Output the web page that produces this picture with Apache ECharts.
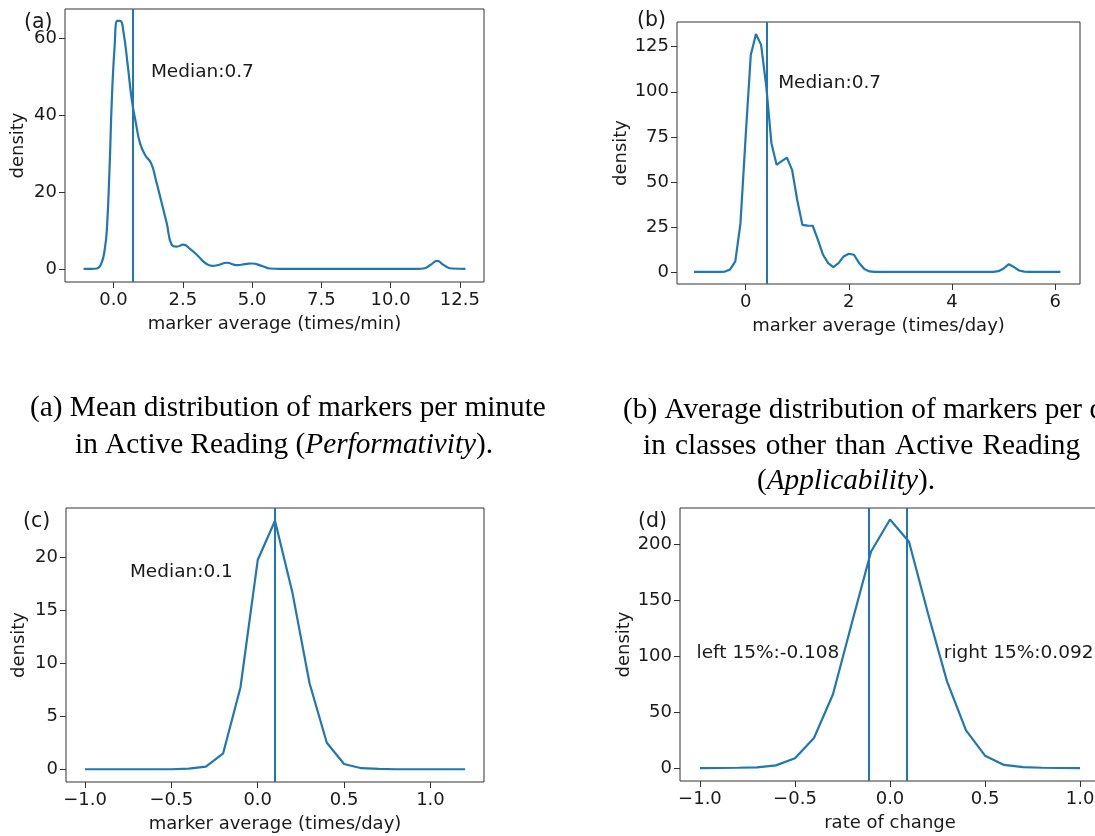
<!DOCTYPE html>
<html>
<head>
<meta charset="utf-8">
<script src="https://cdn.jsdelivr.net/npm/echarts@6/dist/echarts.min.js"></script>
<style>
  html, body { margin: 0; padding: 0; background: #fff; overflow: hidden; }
  #chart { width: 1110px; height: 836px; }
</style>
</head>
<body>
<div id="chart"></div>
<script>
// (a) density of marker averages per minute, Active Reading
const aX = [-1.08, -0.8, -0.6, -0.44, -0.32, -0.24, -0.14, -0.06, 0.04, 0.14, 0.24, 0.36, 0.52, 0.66, 0.81, 0.96, 1.14, 1.36, 1.53, 1.74, 1.92, 2.1, 2.28, 2.52, 2.76, 3.06, 3.3, 3.55, 3.78, 4.09, 4.45, 4.81, 4.99, 5.35, 5.65, 6.0, 11.0, 11.18, 11.45, 11.68, 11.9, 12.2, 12.7];
const aY = [0.1, 0.1, 0.2, 1.5, 5, 10.2, 26.7, 44, 57.8, 64.5, 64.5, 61.6, 52.6, 44, 37.9, 32.7, 29.7, 27.5, 23.2, 17.2, 12, 6.4, 5.9, 6.4, 5.3, 3.4, 1.7, 0.9, 1.1, 1.7, 1.1, 1.4, 1.5, 0.9, 0.2, 0.1, 0.1, 0.2, 1.2, 2.2, 1.2, 0.2, 0.1];
const medianA = 0.7;
const aXTicks = [0, 2.5, 5, 7.5, 10, 12.5];
const aYTicks = [0, 20, 40, 60];

// (b) density of marker averages per day, other classes
const bX = [-1.0, -0.9, -0.8, -0.7, -0.6, -0.5, -0.4, -0.3, -0.2, -0.1, 0.0, 0.1, 0.2, 0.3, 0.4, 0.5, 0.6, 0.7, 0.8, 0.9, 1.0, 1.1, 1.2, 1.3, 1.4, 1.5, 1.6, 1.7, 1.8, 1.9, 2.0, 2.1, 2.2, 2.3, 2.4, 2.5, 2.6, 2.7, 2.8, 2.9, 3.0, 3.1, 3.2, 3.3, 3.4, 3.5, 3.6, 3.7, 3.8, 3.9, 4.0, 4.1, 4.2, 4.3, 4.4, 4.5, 4.6, 4.7, 4.8, 4.9, 5.0, 5.1, 5.2, 5.3, 5.4, 5.5, 5.6, 5.7, 5.8, 5.9, 6.0, 6.1];
const bY = [0.1, 0.1, 0.1, 0.1, 0.1, 0.1, 0.3, 1.5, 5.9, 27, 75, 120.4, 132, 126, 103, 71.5, 59.5, 61.5, 63.5, 56.7, 40, 26.2, 25.8, 25.7, 18, 9.6, 5, 2.8, 5, 8.7, 10.2, 9.6, 5, 1.7, 0.4, 0.1, 0.1, 0.1, 0.1, 0.1, 0.1, 0.1, 0.1, 0.1, 0.1, 0.1, 0.1, 0.1, 0.1, 0.1, 0.1, 0.1, 0.1, 0.1, 0.1, 0.1, 0.1, 0.1, 0.1, 0.5, 2, 4.4, 2.8, 0.9, 0.3, 0.1, 0.1, 0.1, 0.1, 0.1, 0.1, 0.1];
const medianLineB = 0.4;
const bXTicks = [0, 2, 4, 6];
const bYTicks = [0, 25, 50, 75, 100, 125];

// (c) density of marker averages per day
const cX = [-1.0, -0.9, -0.8, -0.7, -0.6, -0.5, -0.4, -0.3, -0.2, -0.1, 0.0, 0.1, 0.2, 0.3, 0.4, 0.5, 0.6, 0.7, 0.8, 0.9, 1.0, 1.1, 1.2];
const cY = [0, 0, 0, 0, 0, 0, 0.06, 0.25, 1.5, 7.7, 19.7, 23.4, 16.7, 8.1, 2.5, 0.5, 0.1, 0.03, 0, 0, 0, 0, 0];
const medianC = 0.1;
const cXTicks = [-1.0, -0.5, 0.0, 0.5, 1.0];
const cYTicks = [0, 5, 10, 15, 20];

// (d) density of the rate of change
const dX = [-1.0, -0.9, -0.8, -0.7, -0.6, -0.5, -0.4, -0.3, -0.2, -0.1, 0.0, 0.1, 0.2, 0.3, 0.4, 0.5, 0.6, 0.7, 0.8, 0.9, 1.0];
const dY = [0.2, 0.3, 0.5, 0.9, 2.6, 8.9, 27, 66, 130, 193, 221.7, 202, 138, 77.5, 33.8, 11.3, 3, 1, 0.5, 0.3, 0.2];
const leftQ = -0.108;
const rightQ = 0.092;
const dXTicks = [-1.0, -0.5, 0.0, 0.5, 1.0];
const dYTicks = [0, 50, 100, 150, 200];

// in-plot annotations: [panel, x, y, text]
const notes = [
  [0, 1.35, 51.1, 'Median:0.7'],
  [1, 0.63, 104.7, 'Median:0.7'],
  [2, -0.74, 18.6, 'Median:0.1'],
  [3, -1.018, 102.7, 'left 15%:-0.108'],
  [3, 0.283, 102.7, 'right 15%:0.092']
];

const BLUE = '#1f77b4';
const INK = '#1a1a1a';
const SANS = 'DejaVu Sans';
const SERIF = 'Liberation Serif';
const FS = 18;

const pairs = (xs, ys) => xs.map((x, i) => [x, ys[i]]);
const fmt1 = v => (v < 0 ? '\u2212' : '') + Math.abs(v).toFixed(1);
const fmt0 = v => (v < 0 ? '\u2212' : '') + Math.abs(v).toFixed(0);

function xAxis(gi, min, max, ticks, name, fmt) {
  return {
    type: 'value', gridIndex: gi, min: min, max: max,
    name: name, nameLocation: 'middle', nameGap: 33,
    nameTextStyle: { fontFamily: SANS, fontSize: FS, color: INK },
    axisLine: { show: false, onZero: false }, splitLine: { show: false },
    axisTick: { show: true, inside: false, length: 6, lineStyle: { color: '#333', width: 1 }, customValues: ticks },
    axisLabel: { show: true, margin: 9, fontFamily: SANS, fontSize: FS, color: INK, customValues: ticks, formatter: fmt }
  };
}
function yAxis(gi, min, max, ticks) {
  return {
    type: 'value', gridIndex: gi, min: min, max: max,
    name: 'density', nameLocation: 'middle', nameGap: 38,
    nameTextStyle: { fontFamily: SANS, fontSize: FS, color: INK },
    axisLine: { show: false, onZero: false }, splitLine: { show: false },
    axisTick: { show: true, inside: false, length: 6, lineStyle: { color: '#333', width: 1 }, customValues: ticks },
    axisLabel: { show: true, margin: 8, fontFamily: SANS, fontSize: FS, color: INK, customValues: ticks, formatter: fmt0 }
  };
}
function curve(gi, data, smooth, lines) {
  return {
    type: 'line', xAxisIndex: gi, yAxisIndex: gi, data: data,
    showSymbol: false, smooth: smooth,
    lineStyle: { color: BLUE, width: 2.2 }, itemStyle: { color: BLUE },
    silent: true, z: 3,
    markLine: {
      silent: true, symbol: ['none', 'none'], label: { show: false },
      lineStyle: { type: 'solid', color: BLUE, width: 2 },
      data: lines.map(v => ({ xAxis: v }))
    }
  };
}
function panelTag(x, y, t) {
  return { type: 'text', x: x, y: y, z: 10,
    style: { text: t, fontFamily: SANS, fontSize: 20.5, fill: INK, align: 'left', verticalAlign: 'middle' } };
}
const CAP = 29.3;
const capRich = {
  n: { fontFamily: SERIF, fontSize: CAP, color: '#000' },
  i: { fontFamily: SERIF, fontSize: CAP, fontStyle: 'italic', color: '#000' },
  w: { fontFamily: SERIF, fontSize: CAP, color: '#000', padding: [0, 1] }
};
function caption(x, y, t, align) {
  return { type: 'text', x: x, y: y, z: 10,
    style: { text: t, rich: capRich, fontFamily: SERIF, fontSize: CAP, fill: '#000', align: align || 'left', verticalAlign: 'middle' } };
}
// justified caption line: words joined by slightly widened spaces
const spread = words => words.map(s => '{n|' + s + '}').join('{w| }');

const gridBase = { show: true, borderColor: '#333', borderWidth: 1, backgroundColor: 'transparent' };

const staticGraphics = [
  panelTag(24, 23, '(a)'),
  panelTag(637, 21, '(b)'),
  panelTag(23, 522, '(c)'),
  panelTag(638, 522, '(d)'),
  caption(30, 408, '{n|(a) Mean distribution of markers per minute}'),
  caption(75, 445, '{n|in Active Reading (}{i|Performativity}{n|).}'),
  caption(623, 410, '{n|(b) Average distribution of markers per day}'),
  caption(643, 446, spread(['in', 'classes', 'other', 'than', 'Active', 'Reading'])),
  caption(846, 481, '{n|(}{i|Applicability}{n|).}', 'center')
];

const option = {
  animation: false,
  backgroundColor: '#fff',
  grid: [
    Object.assign({ left: 65, top: 9, width: 419, height: 273 }, gridBase),
    Object.assign({ left: 677, top: 22, width: 403, height: 262 }, gridBase),
    Object.assign({ left: 66, top: 508, width: 418, height: 274 }, gridBase),
    Object.assign({ left: 680, top: 508, width: 420, height: 273 }, gridBase)
  ],
  xAxis: [
    xAxis(0, -1.75, 13.37, aXTicks, 'marker average (times/min)', fmt1),
    xAxis(1, -1.33, 6.48, bXTicks, 'marker average (times/day)', fmt0),
    xAxis(2, -1.11, 1.31, cXTicks, 'marker average (times/day)', fmt1),
    xAxis(3, -1.105, 1.105, dXTicks, 'rate of change', fmt1)
  ],
  yAxis: [
    yAxis(0, -3.3, 67.6, aYTicks),
    yAxis(1, -6.6, 138.7, bYTicks),
    yAxis(2, -1.2, 24.6, cYTicks),
    yAxis(3, -11.3, 232, dYTicks)
  ],
  series: [
    curve(0, pairs(aX, aY), 0.5, [medianA]),
    curve(1, pairs(bX, bY), false, [medianLineB]),
    curve(2, pairs(cX, cY), false, [medianC]),
    curve(3, pairs(dX, dY), false, [leftQ, rightQ])
  ],
  graphic: staticGraphics
};

const chart = echarts.init(document.getElementById('chart'), null, { renderer: 'canvas' });
chart.setOption(option);

// place annotations at their data coordinates through each panel's scales
const noteGraphics = notes.map(([gi, x, y, t]) => {
  const p = chart.convertToPixel({ gridIndex: gi }, [x, y]);
  return { type: 'text', x: p[0], y: p[1], z: 10,
    style: { text: t, fontFamily: SANS, fontSize: 18.5, fill: INK, align: 'left', verticalAlign: 'middle' } };
});
chart.setOption({ graphic: staticGraphics.concat(noteGraphics) });
</script>
</body>
</html>
